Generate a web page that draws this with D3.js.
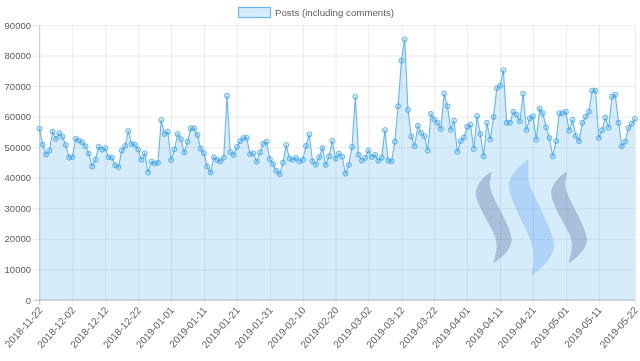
<!DOCTYPE html>
<html><head><meta charset="utf-8">
<script src="https://cdnjs.cloudflare.com/ajax/libs/d3/7.8.5/d3.min.js"></script>
<style>html,body{margin:0;padding:0;background:#fff}svg{display:block;filter:blur(0.3px)}
text{font-family:"Liberation Sans",Arial,sans-serif;fill:#5c5c5c;font-size:10px}</style>
</head><body><svg id="c" width="640" height="361"></svg>
<script>
const seriesName = "Posts (including comments)";
const startDate = "2018-11-22";
const tickLabels = ["2018-11-22","2018-12-02","2018-12-12","2018-12-22","2019-01-01","2019-01-11","2019-01-21","2019-01-31","2019-02-10","2019-02-20","2019-03-02","2019-03-12","2019-03-22","2019-04-01","2019-04-11","2019-04-21","2019-05-01","2019-05-11","2019-05-22"];
const yTicks = [0,10000,20000,30000,40000,50000,60000,70000,80000,90000];
const posts = [
56100,50800,47600,48900,55100,52700,54600,53400,50700,46600,
46800,52800,52200,51600,50300,47900,43700,45900,50200,49200,
49700,46700,46600,44100,43500,48900,50400,55300,51100,50800,
49200,45900,48000,41700,45300,44700,44900,58900,54300,55100,
45800,49300,54300,52600,48300,51800,56200,56200,54000,49500,
48000,43700,41700,46700,45800,45400,46600,66800,48400,47500,
50100,52000,53000,53100,47700,48000,45300,48300,51100,51800,
46100,44500,42300,41200,44900,50700,46300,45900,46500,45300,
45900,50400,54200,45400,44300,46700,49700,44200,47000,52100,
46250,47900,46900,41400,44200,50100,66500,47500,45600,46500,
48900,46800,47500,45600,46600,55600,45600,45400,51800,63400,
78300,85300,62200,53500,50300,57000,54650,53600,48900,60900,
59100,58000,56000,67600,63400,55700,58700,48500,52000,53200,
56700,57400,49400,60200,54300,47000,58000,52500,59900,69300,
70100,75200,58000,58000,61600,60650,58500,67500,55600,59450,
60100,52500,62600,61100,56500,53000,47000,52000,61100,61100,
61600,55400,59000,53700,52000,58000,60000,61600,68500,68500,
53000,55600,59700,56400,66500,67200,58000,50300,51800,56300,
57700,59300];
const logoLeft = "M491.7,171.5 C484,176 477,184 475.7,192 C476,204 487,219 494,234 C497,241 497,247 496,252 L493.3,263.3 C503,257 511,249 511.7,240 C511,230 503,216 497,204 C492,194 489,187 490,181 Z";
const logoMiddle = "M528.3,159 C520,165 509,176 508.7,185 C510,200 520,216 527,232 C534,247 536,258 531,276 C543,268 554,256 554.3,245 C553,233 545,219 539,205 C533,192 527,182 528.3,172 Z";
const logoOffset = 75.3;

const M = {left:39.5, right:635, top:25, bottom:300};
const svg = d3.select("#c");

const parse = d3.utcParse("%Y-%m-%d"), fmt = d3.utcFormat("%Y-%m-%d");
const dates = posts.map((_, i) => fmt(d3.utcDay.offset(parse(startDate), i)));
const x = d3.scalePoint().domain(dates).range([M.left, M.right]);
const y = d3.scaleLinear().domain([0, 90000]).range([M.bottom, M.top]);

const blue = "rgb(54,162,235)", fill = "rgba(54,162,235,0.2)";
const font = '"Liberation Sans",Arial,sans-serif';

// x axis with grid
const gx = svg.append("g").attr("transform", `translate(0,${M.bottom})`)
  .call(d3.axisBottom(x).tickValues(tickLabels).tickSize(5).tickPadding(3));
gx.select(".domain").remove();
gx.selectAll(".tick line").clone().attr("y1", 0).attr("y2", M.top - M.bottom);
gx.selectAll(".tick line").attr("stroke","rgba(0,0,0,0.08)");
gx.selectAll(".tick text").attr("text-anchor","end")
  .attr("transform","translate(-1,7) rotate(-48)")
  .attr("dx",0).attr("dy",".55em").attr("y",0).attr("x",0)
  .style("font-size","10px").style("font-family",font);

// y axis with grid
const gy = svg.append("g").attr("transform", `translate(${M.left},0)`)
  .call(d3.axisLeft(y).tickValues(yTicks).tickFormat(d3.format("d")).tickSize(7).tickPadding(1.5));
gy.select(".domain").remove();
gy.selectAll(".tick line").clone().attr("x1", 0).attr("x2", M.right - M.left);
gy.selectAll(".tick line").attr("stroke","rgba(0,0,0,0.08)");
gy.selectAll("text").style("font-size","9.5px").style("font-family",font);

// zero lines
svg.append("line").attr("x1",M.left-5).attr("x2",M.right).attr("y1",y(0)).attr("y2",y(0)).attr("stroke","rgba(0,0,0,0.2)");
svg.append("line").attr("x1",M.left).attr("x2",M.left).attr("y1",M.top).attr("y2",M.bottom+5).attr("stroke","rgba(0,0,0,0.15)");

// area, line, points
const pts = posts.map((v,i)=>({date:dates[i], v}));
svg.append("path").datum(pts).attr("fill",fill)
  .attr("d", d3.area().x(d=>x(d.date)).y0(y(0)).y1(d=>y(d.v)));
svg.append("path").datum(pts).attr("fill","none").attr("stroke",blue).attr("stroke-opacity",0.75).attr("stroke-width",1.1)
  .attr("d", d3.line().x(d=>x(d.date)).y(d=>y(d.v)));
svg.append("g").selectAll("circle").data(pts).join("circle")
  .attr("cx",d=>x(d.date)).attr("cy",d=>y(d.v)).attr("r",2.5)
  .attr("fill",fill).attr("stroke",blue).attr("stroke-opacity",0.75).attr("stroke-width",1);

// logo
const logo = svg.append("g");
logo.append("path").attr("d",logoLeft).attr("fill","#1a3a73").attr("opacity",0.25);
logo.append("path").attr("d",logoMiddle).attr("fill","#3f97f5").attr("opacity",0.27);
logo.append("path").attr("d",logoLeft).attr("transform",`translate(${logoOffset},0)`).attr("fill","#1a3a73").attr("opacity",0.25);

// legend
const lg = svg.append("g");
lg.append("rect").attr("x",238.5).attr("y",7.5).attr("width",32).attr("height",10)
  .attr("fill",fill).attr("stroke",blue).attr("stroke-opacity",0.75).attr("stroke-width",1.2);
lg.append("text").attr("x",275).attr("y",15.5).style("font-size","9.7px").text(seriesName);
</script></body></html>
